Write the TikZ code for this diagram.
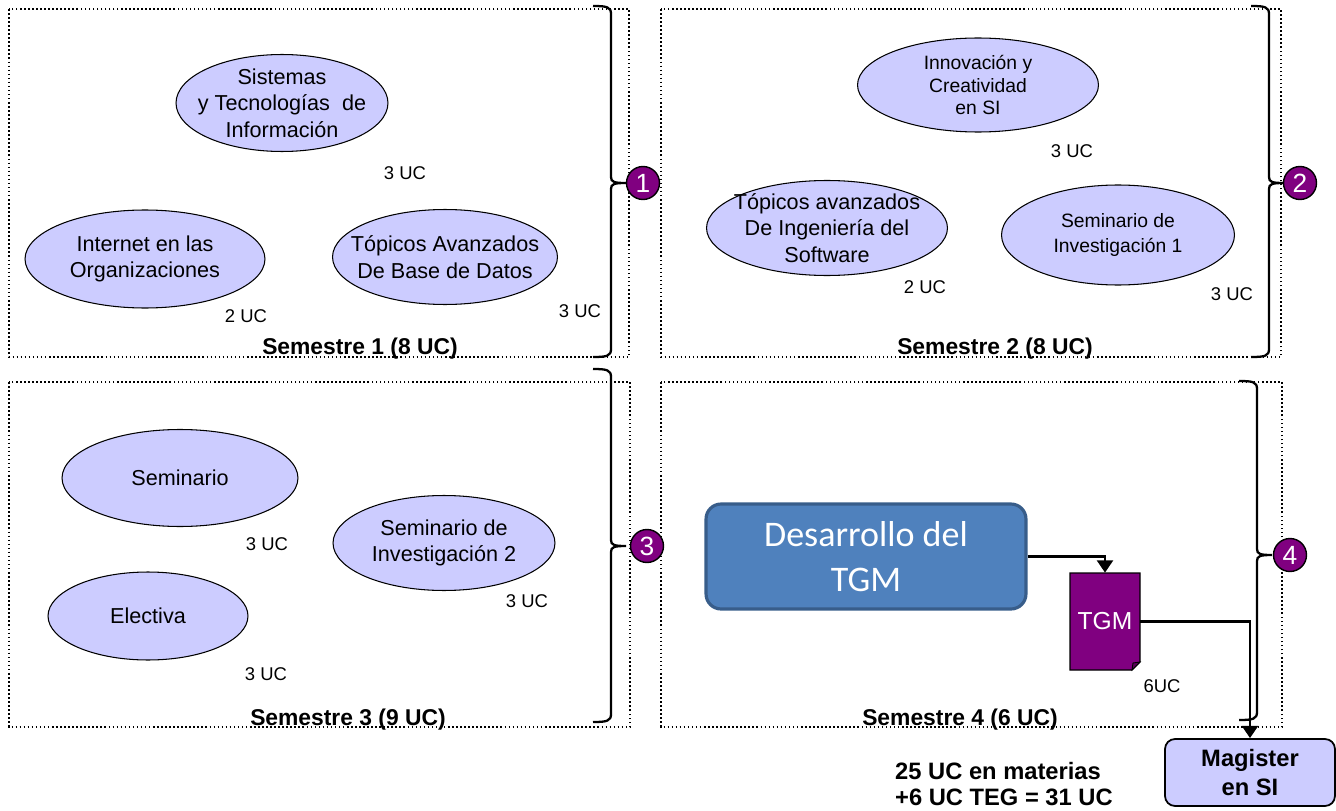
\documentclass[tikz,border=0pt]{standalone}
\usepackage{fontspec}
\setmainfont{Liberation Sans}
\newfontfamily\calibrifont{Carlito}
\usetikzlibrary{arrows.meta}
\usetikzlibrary{shapes.geometric}

\definecolor{courseFill}{RGB}{204,204,255}
\definecolor{numPurple}{RGB}{128,0,128}
\definecolor{tgmBlue}{RGB}{79,129,189}
\definecolor{tgmBorder}{RGB}{56,93,138}

\begin{document}
\begin{tikzpicture}[x=0.02cm, y=-0.02cm,
    semframe/.style={line width=0.9pt, dash pattern=on 0.9pt off 1.4pt},
    sembrace/.style={line width=1.3pt},
    semnum/.style={circle, draw=black, line width=0.8pt, fill=numPurple, text=white, minimum size=0.66cm, inner sep=0pt, font=\fontsize{15}{15}\selectfont},
    course/.style={ellipse, draw=black, line width=0.6pt, fill=courseFill, inner sep=0pt},
    coursetext/.style={align=center, font=\fontsize{12.3}{15}\selectfont},
    smalltext/.style={align=center, font=\fontsize{11}{12.8}\selectfont},
    uc/.style={font=\fontsize{10.5}{12}\selectfont},
    semtitle/.style={font=\bfseries\fontsize{13}{15}\selectfont},
    flow/.style={line width=1.6pt, -{Triangle[width=9pt,length=7pt]}}]
    \useasboundingbox (0,0) rectangle (1336,811);

    % semester frames
    \draw[semframe] (9,9) rectangle (629,357);
    \draw[semframe] (661,9) rectangle (1281,357);
    \draw[semframe] (9,382) rectangle (630,727);
    \draw[semframe] (661,382) rectangle (1282,727);

    % braces
    \foreach \bx/\bt/\bm/\bb in {611/6/183/357, 1269/6/183/357, 611/369/546/722, 1257/381/555/720}
        \draw[sembrace] (\bx-18,\bt) .. controls (\bx-4,\bt) and (\bx,\bt+1) .. (\bx,\bt+8)
            -- (\bx,\bm-6) .. controls (\bx,\bm-1) and (\bx+3,\bm) .. (\bx+15,\bm)
            .. controls (\bx+3,\bm) and (\bx,\bm+1) .. (\bx,\bm+6)
            -- (\bx,\bb-8) .. controls (\bx,\bb-1) and (\bx-4,\bb) .. (\bx-18,\bb);

    \node[semnum] (n1) at (643,183) {1};
    \node[semnum] (n2) at (1300,183) {2};
    \node[semnum] (n3) at (647,546) {3};
    \node[semnum] (n4) at (1290,555) {4};

    % semestre 1
    \node[course, minimum width=4.24cm, minimum height=1.94cm] (sti) at (282,103) {};
    \node[coursetext] (sti-t) at (sti) {Sistemas\\y Tecnologías~~de\\Información};
    \node[uc] (sti-uc) at (405,173) {3 UC};
    \node[course, minimum width=4.8cm, minimum height=1.96cm] (ieo) at (145,259) {};
    \node[coursetext] (ieo-t) at (ieo) {Internet en las\\Organizaciones};
    \node[uc] (ieo-uc) at (246,316) {2 UC};
    \node[course, minimum width=4.5cm, minimum height=1.9cm] (tabd) at (445,257) {};
    \node[coursetext] (tabd-t) at (tabd) {Tópicos Avanzados\\De Base de Datos};
    \node[uc] (tabd-uc) at (580,311) {3 UC};
    \node[semtitle] (s1) at (360,349) {Semestre 1 (8 UC)};

    % semestre 2
    \node[course, minimum width=4.82cm, minimum height=1.88cm] (ics) at (978,85) {};
    \node[smalltext] (ics-t) at (ics) {Innovación y\\Creatividad\\en SI};
    \node[uc] (ics-uc) at (1072,151) {3 UC};
    \node[course, minimum width=4.82cm, minimum height=1.9cm] (tais) at (827,228) {};
    \node[coursetext] (tais-t) at (tais) {Tópicos avanzados\\De Ingeniería~del\\Software};
    \node[uc] (tais-uc) at (925,287) {2 UC};
    \node[course, minimum width=4.66cm, minimum height=2cm] (si1) at (1118,235) {};
    \node[smalltext, font=\fontsize{11}{14.5}\selectfont] (si1-t) at (si1) {Seminario de\\Investigación 1};
    \node[uc] (si1-uc) at (1232,294) {3 UC};
    \node[semtitle] (s2) at (995,349) {Semestre 2 (8 UC)};

    % semestre 3
    \node[course, minimum width=4.72cm, minimum height=1.94cm] (sem) at (180,478) {};
    \node[coursetext] (sem-t) at (sem) {Seminario};
    \node[uc] (sem-uc) at (267,544) {3 UC};
    \node[course, minimum width=4.44cm, minimum height=1.9cm] (si2) at (444,543) {};
    \node[coursetext] (si2-t) at (si2) {Seminario de\\Investigación 2};
    \node[uc] (si2-uc) at (527,601) {3 UC};
    \node[course, minimum width=4cm, minimum height=1.76cm] (ele) at (148,616) {};
    \node[coursetext] (ele-t) at (ele) {Electiva};
    \node[uc] (ele-uc) at (266,674) {3 UC};
    \node[semtitle] (s3) at (348,720) {Semestre 3 (9 UC)};

    % semestre 4
    \node[draw=tgmBorder, line width=1.8pt, fill=tgmBlue, rounded corners=0.3cm, minimum width=6.4cm, minimum height=2.1cm, text=white, align=center, font=\calibrifont\fontsize{20.5}{25.5}\selectfont] (des) at (866,556.5) {Desarrollo del\\TGM};
    \coordinate (tgmc) at (1105,621.5);
    \filldraw[fill=numPurple, draw=black, line width=0.6pt] (1070,573) -- (1140,573) -- (1140,662) -- (1132,670) -- (1070,670) -- cycle;
    \filldraw[fill=numPurple!70!black, draw=black, line width=0.5pt] (1140,662) -- (1132,670) -- (1133,663) -- cycle;
    \node[text=white, minimum width=1.4cm, minimum height=1.94cm, font=\fontsize{14}{16}\selectfont] (tgm) at (tgmc) {TGM};
    \node[uc] (tgm-uc) at (1162,686) {6UC};
    \node[semtitle] (s4) at (960,720) {Semestre 4 (6 UC)};

    \node[draw=black, line width=1pt, fill=courseFill, rounded corners=0.2cm, minimum width=3.4cm, minimum height=1.34cm, align=center, font=\bfseries\fontsize{13.5}{16}\selectfont] (mag) at (1250,772.5) {Magister\\en SI};

    \draw[flow] (des.east) -| (tgm.north);
    \draw[flow] (tgm.east) -| (mag.north);

    \node[anchor=west, align=left, font=\bfseries\fontsize{13.5}{15.3}\selectfont] (total) at (889,784) {25 UC en materias\\+6 UC TEG = 31 UC};
\end{tikzpicture}
\end{document}
